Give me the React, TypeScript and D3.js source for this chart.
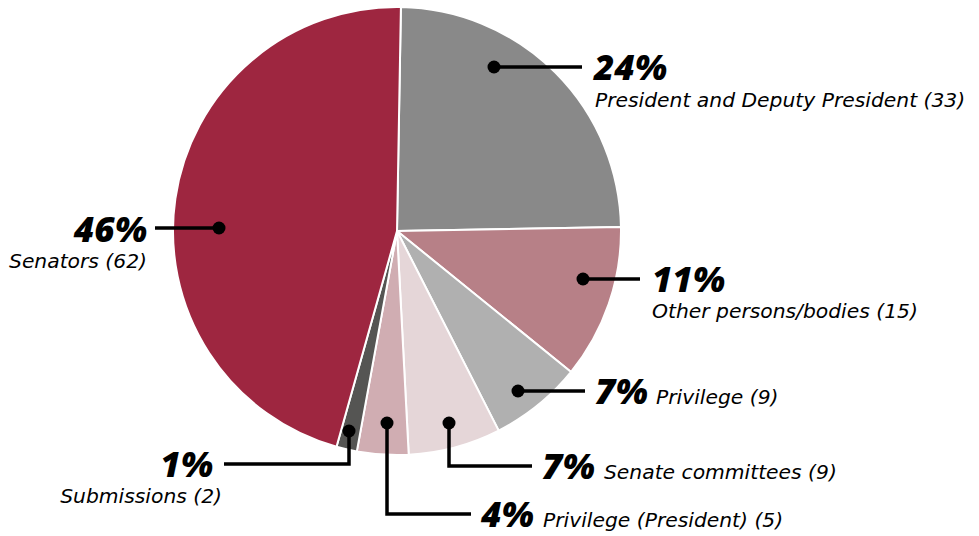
import React from "react";
import * as d3 from "d3";

const categories = [
  "President and Deputy President",
  "Other persons/bodies",
  "Privilege",
  "Senate committees",
  "Privilege (President)",
  "Submissions",
  "Senators",
];
const counts = [33, 15, 9, 9, 5, 2, 62];
const percents = ["24%", "11%", "7%", "7%", "4%", "1%", "46%"];
const colors = ["#898989", "#b78087", "#b0b0b0", "#e5d6d8", "#d0adb2", "#555553", "#9e2640"];

type Lab = {
  dot: [number, number];
  path: [number, number][];
  pctX: number;
  pctY: number;
  anchor: "start" | "end";
  labX: number;
  labY: number;
  labAnchor: "start" | "end";
};
const layouts: Lab[] = [
  { dot: [494, 67], path: [[494, 67], [582, 67]], pctX: 594, pctY: 80, anchor: "start", labX: 595, labY: 107, labAnchor: "start" },
  { dot: [583, 279], path: [[583, 279], [640, 279]], pctX: 652, pctY: 292, anchor: "start", labX: 652, labY: 318, labAnchor: "start" },
  { dot: [518, 391], path: [[518, 391], [585, 391]], pctX: 595, pctY: 404, anchor: "start", labX: 656, labY: 404, labAnchor: "start" },
  { dot: [449, 423], path: [[449, 423], [449, 466], [532, 466]], pctX: 542, pctY: 479, anchor: "start", labX: 604, labY: 479, labAnchor: "start" },
  { dot: [387, 423], path: [[387, 423], [387, 514], [471, 514]], pctX: 481, pctY: 527, anchor: "start", labX: 543, labY: 527, labAnchor: "start" },
  { dot: [349, 431], path: [[349, 431], [349, 464], [224, 464]], pctX: 213, pctY: 477, anchor: "end", labX: 222, labY: 503, labAnchor: "end" },
  { dot: [219, 228], path: [[219, 228], [155, 228]], pctX: 147, pctY: 242, anchor: "end", labX: 147, labY: 268, labAnchor: "end" },
];

const W = 979;
const H = 536;
const cx = 397;
const cy = 231;
const R = 224;

export default function App() {
  const pie = d3
    .pie<number>()
    .sort(null)
    .value((d) => d)
    .startAngle((1 * Math.PI) / 180)
    .endAngle((361 * Math.PI) / 180);
  const arcs = pie(counts);
  const arc = d3.arc<d3.PieArcDatum<number>>().innerRadius(0).outerRadius(R);
  const line = d3.line();
  const pctFont = "'Open Sans', Roboto, sans-serif";
  const labFont = "'DejaVu Sans', 'Open Sans', sans-serif";
  return (
    <svg
      width={W}
      height={H}
      style={{ position: "absolute", left: 0, top: 0, background: "#fff" }}
    >
      <g transform={`translate(${cx},${cy})`}>
        {arcs.map((a, i) => (
          <path key={i} d={arc(a) || ""} fill={colors[i]} stroke="#fff" strokeWidth={2} strokeLinejoin="round" />
        ))}
      </g>
      {layouts.map((l, i) => (
        <g key={i}>
          <path d={line(l.path) || ""} fill="none" stroke="#000" strokeWidth={3.5} />
          <circle cx={l.dot[0]} cy={l.dot[1]} r={6.5} fill="#000" />
          <text
            x={l.pctX}
            y={l.pctY}
            textAnchor={l.anchor}
            fontFamily={pctFont}
            fontStyle="italic"
            fontWeight={800}
            fontSize={35}
            fill="#000"
          >
            {percents[i]}
          </text>
          <text
            x={l.labX}
            y={l.labY}
            textAnchor={l.labAnchor}
            fontFamily={labFont}
            fontStyle="italic"
            fontWeight={400}
            fontSize={20.3}
            fill="#000"
          >
            {`${categories[i]} (${counts[i]})`}
          </text>
        </g>
      ))}
    </svg>
  );
}
